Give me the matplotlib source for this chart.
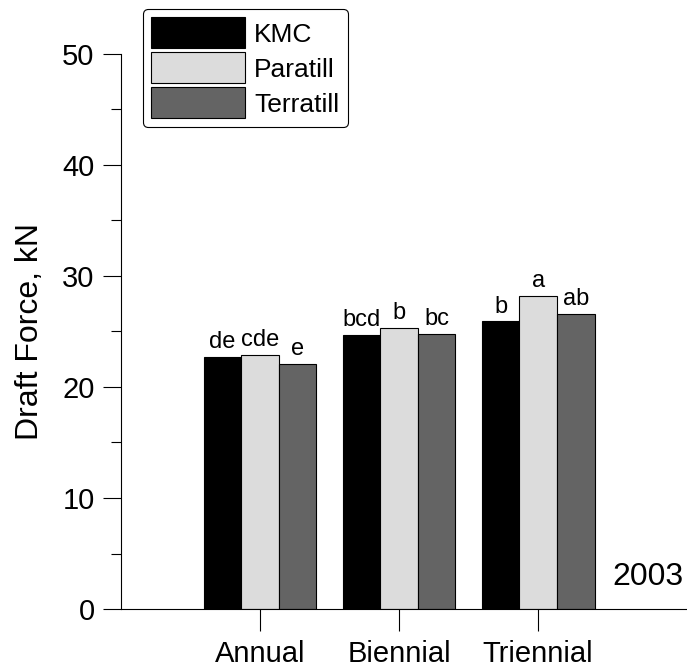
import matplotlib
matplotlib.use("Agg")
import matplotlib.pyplot as plt
import numpy as np
from matplotlib.ticker import MultipleLocator

plt.rcParams["font.family"] = ["Liberation Sans", "DejaVu Sans"]

categories = ["Annual", "Biennial", "Triennial"]
series = ["KMC", "Paratill", "Terratill"]
kmc = [22.7, 24.7, 25.9]
paratill = [22.9, 25.3, 28.2]
terratill = [22.05, 24.75, 26.6]
letters = [
    ["de", "bcd", "b"],
    ["cde", "b", "a"],
    ["e", "bc", "ab"],
]

colors = {"KMC": "black", "Paratill": "#dcdcdc", "Terratill": "#646464"}

fig = plt.figure(figsize=(6.87, 6.68), dpi=100)
ax = fig.add_axes([0.176, 0.0883, 0.824, 0.831])

x = np.arange(1, len(categories) + 1)
width = 0.27
handles = []
for i, (name, vals) in enumerate(zip(series, [kmc, paratill, terratill])):
    pos = x + (i - 1) * width
    b = ax.bar(pos, vals, width, color=colors[name], edgecolor="black",
               linewidth=0.8, label=name)
    handles.append(b)
    for xp, v, lab in zip(pos, vals, letters[i]):
        ax.text(xp, v + 0.35, lab, ha="center", va="bottom", fontsize=17)

ax.set_xlim(0, 4.07)
ax.set_ylim(0, 50)
ax.set_xticks(x)
ax.set_xticklabels(categories, fontsize=21)
ax.yaxis.set_major_locator(MultipleLocator(10))
ax.yaxis.set_minor_locator(MultipleLocator(5))
ax.tick_params(axis="y", which="major", direction="out", length=13, width=0.8,
               labelsize=21, pad=6)
ax.tick_params(axis="y", which="minor", direction="out", length=7, width=0.8)
ax.tick_params(axis="x", direction="out", length=16, width=0.8, pad=6)
ax.spines["top"].set_visible(False)
ax.spines["right"].set_visible(False)
ax.set_ylabel("Draft Force, kN", fontsize=23, labelpad=12)

ax.text(0.9947, 0.0577, "2003", transform=ax.transAxes, ha="right",
        va="center", fontsize=23)

leg = fig.legend(handles=handles, loc="upper left",
                 bbox_to_anchor=(0.208, 0.9865), fontsize=19,
                 handlelength=3.56, handleheight=1.43, handletextpad=0.34,
                 labelspacing=0.15, borderpad=0.32, borderaxespad=0,
                 frameon=True, fancybox=True, edgecolor="black",
                 framealpha=1)
leg.get_frame().set_linewidth(0.8)

fig.savefig("out.png", dpi=100)
